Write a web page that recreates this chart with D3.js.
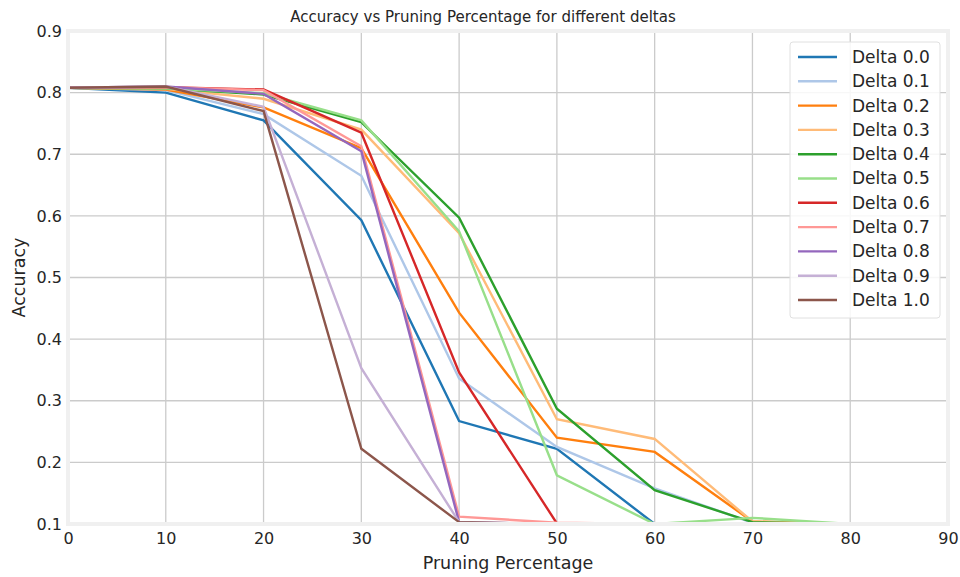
<!DOCTYPE html>
<meta charset="utf-8">
<style>
body { margin: 0; background: #fff; }
text { font-family: "DejaVu Sans", sans-serif; fill: #262626; }
.grid line { stroke: #cbcbcb; stroke-width: 1.3; }
.series { fill: none; stroke-width: 2.4; stroke-linejoin: miter; }
</style>
<body>
<svg width="960" height="577"></svg>
<script src="https://d3js.org/d3.v7.min.js"></script>
<script>

var pruning = [0, 10, 20, 30, 40, 50, 60, 70, 80, 90];
var deltas = ["Delta 0.0", "Delta 0.1", "Delta 0.2", "Delta 0.3", "Delta 0.4", "Delta 0.5",
              "Delta 0.6", "Delta 0.7", "Delta 0.8", "Delta 0.9", "Delta 1.0"];
var colors = ["#1f77b4", "#aec7e8", "#ff7f0e", "#ffbb78", "#2ca02c", "#98df8a",
              "#d62728", "#ff9896", "#9467bd", "#c5b0d5", "#8c564b"];

var acc00 = [0.808, 0.800, 0.755, 0.593, 0.267, 0.222, 0.100, 0.100, 0.100, 0.100];
var acc01 = [0.808, 0.804, 0.765, 0.665, 0.336, 0.225, 0.158, 0.102, 0.100, 0.100];
var acc02 = [0.808, 0.805, 0.776, 0.710, 0.443, 0.240, 0.217, 0.104, 0.100, 0.100];
var acc03 = [0.808, 0.806, 0.790, 0.740, 0.572, 0.270, 0.238, 0.104, 0.100, 0.100];
var acc04 = [0.808, 0.807, 0.797, 0.752, 0.597, 0.287, 0.155, 0.103, 0.100, 0.100];
var acc05 = [0.808, 0.807, 0.799, 0.755, 0.575, 0.179, 0.100, 0.110, 0.100, 0.100];
var acc06 = [0.808, 0.809, 0.805, 0.735, 0.346, 0.101, 0.100, 0.100, 0.100, 0.100];
var acc07 = [0.808, 0.809, 0.804, 0.713, 0.112, 0.102, 0.100, 0.100, 0.100, 0.100];
var acc08 = [0.808, 0.810, 0.798, 0.705, 0.103, 0.100, 0.100, 0.100, 0.100, 0.100];
var acc09 = [0.808, 0.810, 0.777, 0.353, 0.103, 0.100, 0.100, 0.100, 0.100, 0.100];
var acc10 = [0.808, 0.810, 0.770, 0.222, 0.103, 0.100, 0.100, 0.100, 0.100, 0.100];
var series = [acc00, acc01, acc02, acc03, acc04, acc05, acc06, acc07, acc08, acc09, acc10];

var xTicks = [0, 10, 20, 30, 40, 50, 60, 70, 80, 90];
var yTicks = [0.1, 0.2, 0.3, 0.4, 0.5, 0.6, 0.7, 0.8, 0.9];

var svg = d3.select("svg");
var pLeft = 68, pRight = 948, pTop = 31, pBottom = 524;

var x = d3.scaleLinear().domain([0, 90]).range([pLeft, pRight]);
var y = d3.scaleLinear().domain([0.1, 0.9]).range([pBottom, pTop]);

svg.append("defs").append("clipPath").attr("id", "clip")
    .append("rect").attr("x", pLeft).attr("y", pTop)
    .attr("width", pRight - pLeft).attr("height", pBottom - pTop);

// grid
var grid = svg.append("g").attr("class", "grid");
grid.selectAll(".vx").data(xTicks).enter().append("line")
    .attr("x1", function(d) { return x(d); }).attr("x2", function(d) { return x(d); })
    .attr("y1", pTop).attr("y2", pBottom);
grid.selectAll(".hy").data(yTicks).enter().append("line")
    .attr("y1", function(d) { return y(d); }).attr("y2", function(d) { return y(d); })
    .attr("x1", pLeft).attr("x2", pRight);

// lines
var line = d3.line()
    .x(function(d, i) { return x(pruning[i]); })
    .y(function(d) { return y(d); });

svg.append("g").attr("clip-path", "url(#clip)")
    .selectAll("path").data(series).enter().append("path")
    .attr("class", "series")
    .attr("stroke", function(d, i) { return colors[i]; })
    .attr("d", line);

// frame
svg.append("rect")
    .attr("x", pLeft).attr("y", pTop)
    .attr("width", pRight - pLeft).attr("height", pBottom - pTop)
    .attr("fill", "none").attr("stroke", "#f0f0f0").attr("stroke-width", 4);

// axes
var xAxis = svg.append("g").attr("transform", "translate(0," + pBottom + ")")
    .call(d3.axisBottom(x).tickValues(xTicks).tickSize(0).tickPadding(9).tickFormat(d3.format("d")));
var yAxis = svg.append("g").attr("transform", "translate(" + pLeft + ",0)")
    .call(d3.axisLeft(y).tickValues(yTicks).tickSize(0).tickPadding(6).tickFormat(d3.format(".1f")));
[xAxis, yAxis].forEach(function(a) {
    a.select(".domain").remove();
    a.selectAll("text").style("font-size", "16px").attr("fill", "#262626");
});

svg.append("text")
    .attr("x", 483).attr("y", 22)
    .attr("text-anchor", "middle").style("font-size", "15px")
    .text("Accuracy vs Pruning Percentage for different deltas");

svg.append("text")
    .attr("x", (pLeft + pRight) / 2).attr("y", 569)
    .attr("text-anchor", "middle").style("font-size", "17.5px")
    .text("Pruning Percentage");

svg.append("text")
    .attr("transform", "translate(25," + ((pTop + pBottom) / 2) + ") rotate(-90)")
    .attr("text-anchor", "middle").style("font-size", "17.5px")
    .text("Accuracy");

// legend
var legend = svg.append("g").attr("transform", "translate(790,42)");
legend.append("rect")
    .attr("width", 150).attr("height", 276).attr("rx", 3)
    .attr("fill", "#fff").attr("fill-opacity", 0.85)
    .attr("stroke", "#e0e0e0");
var item = legend.selectAll(".item").data(deltas).enter().append("g")
    .attr("transform", function(d, i) { return "translate(0," + (15 + i * 24.3) + ")"; });
item.append("line")
    .attr("x1", 8).attr("x2", 47)
    .attr("stroke", function(d, i) { return colors[i]; })
    .attr("stroke-width", 2.4);
item.append("text")
    .attr("x", 62).attr("dy", "0.35em")
    .style("font-size", "17px")
    .text(function(d) { return d; });

</script>
</body>
